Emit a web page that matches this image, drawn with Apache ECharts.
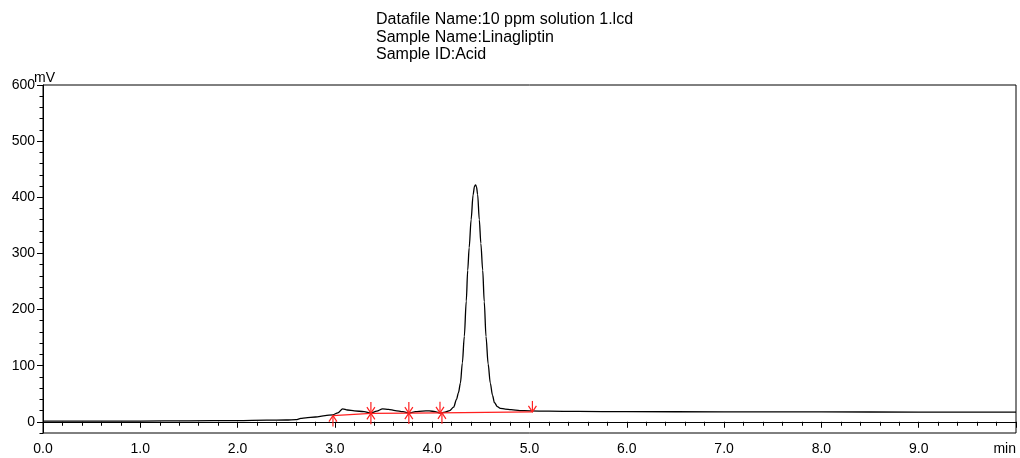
<!DOCTYPE html>
<html>
<head>
<meta charset="utf-8">
<script src="https://cdn.jsdelivr.net/npm/echarts@6/dist/echarts.min.js"></script>
<style>
html,body{margin:0;padding:0;background:#fff;}
#chart{width:1020px;height:458px;}
</style>
</head>
<body>
<div id="chart"></div>
<script>
// ---- data ----
const titleLines = ['Datafile Name:10 ppm solution 1.lcd', 'Sample Name:Linagliptin', 'Sample ID:Acid'];
const xTickLabels = ['0.0','1.0','2.0','3.0','4.0','5.0','6.0','7.0','8.0','9.0','min'];
const yTickValues = [0, 100, 200, 300, 400, 500, 600];
const yUnit = 'mV';

const traceTimes = [0, 0.5, 1.0, 1.5, 2.0, 2.3, 2.5, 2.6, 2.65, 2.7, 2.8, 2.9, 2.98, 3.03, 3.08, 3.13, 3.2, 3.3, 3.37, 3.43, 3.49, 3.55, 3.62, 3.7, 3.76, 3.83, 3.9, 3.97, 4.03, 4.08, 4.13, 4.18, 4.22, 4.25, 4.27, 4.29, 4.31, 4.33, 4.35, 4.365, 4.38, 4.40, 4.42, 4.435, 4.445, 4.455, 4.467, 4.484, 4.50, 4.519, 4.535, 4.553, 4.575, 4.597, 4.62, 4.64, 4.67, 4.70, 4.75, 4.81, 4.9, 5.0, 5.2, 5.5, 6.0, 7.0, 8.0, 9.0, 10.0];
const traceValues = [1, 1, 1.3, 1.6, 2.2, 2.8, 3.2, 3.8, 6, 6.8, 8.5, 11, 12.4, 16, 23, 21, 19.5, 18, 15.5, 19, 23, 22, 20, 18, 15.5, 18, 19, 19.5, 18, 15.5, 17, 20, 26, 40, 52, 69, 105, 152, 215, 270, 310, 360, 404, 420, 422, 419, 405, 360, 318, 270, 214, 152, 103, 69, 47, 34, 27, 24, 22.5, 21.5, 20, 19.5, 18.8, 18.5, 18, 17.8, 17.5, 17.3, 17.2];

const baselineTimes = [2.98, 3.37, 3.76, 4.08, 5.03];
const baselineValues = [11, 15, 15.5, 16, 17.5];

const peakStartTimes = [2.98, 3.37, 3.76, 4.10];
const peakStartValues = [11, 15, 15.5, 16];
const peakEndTimes = [3.37, 3.76, 4.08, 5.03];
const peakEndValues = [15.5, 15.5, 16, 17.5];

// ---- chart ----
const FONT = '"Liberation Sans", Arial, sans-serif';
const zip = (a, b) => a.map((v, i) => [v, b[i]]);

function arrowItem(dir) {
  return function (params, api) {
    const p = api.coord([api.value(0), api.value(1)]);
    const s = dir; // -1 = up arrow (stem below), 1 = down arrow (stem above)
    const stem = 11, hw = 4, hh = 6;
    const style = { stroke: '#ff2020', lineWidth: 1.2, fill: null };
    return {
      type: 'group',
      children: [
        { type: 'line', shape: { x1: p[0], y1: p[1], x2: p[0], y2: p[1] - s * stem }, style: style },
        { type: 'polyline', shape: { points: [[p[0] - hw, p[1] - s * hh], [p[0], p[1]], [p[0] + hw, p[1] - s * hh]] }, style: style }
      ]
    };
  };
}

const chart = echarts.init(document.getElementById('chart'), null, { renderer: 'canvas' });
chart.setOption({
  animation: false,
  backgroundColor: '#fff',
  textStyle: { fontFamily: FONT },
  title: {
    text: titleLines.join('\n'),
    left: 376, top: 11, padding: 0,
    textStyle: { fontFamily: FONT, fontSize: 16, fontWeight: 'normal', color: '#000', lineHeight: 17.5 }
  },
  grid: {
    left: 43, right: 4, top: 85, bottom: 25,
    show: true, borderColor: '#000', borderWidth: 1, backgroundColor: 'transparent'
  },
  xAxis: {
    type: 'value', min: 0, max: 10, interval: 1,
    axisLine: { show: true, lineStyle: { color: '#000', width: 1 } },
    axisTick: { show: true, length: 6, lineStyle: { color: '#000' } },
    minorTick: { show: true, splitNumber: 5, length: 4, lineStyle: { color: '#000' } },
    splitLine: { show: false },
    minorSplitLine: { show: false },
    axisLabel: {
      color: '#000', fontSize: 14, fontFamily: FONT, margin: 9,
      alignMaxLabel: 'right',
      formatter: v => xTickLabels[Math.round(v)]
    }
  },
  yAxis: [{
    type: 'value', min: -20, max: 600, interval: 20,
    name: yUnit, nameLocation: 'end', nameGap: 0, nameMoveOverlap: false,
    nameTextStyle: { color: '#000', fontSize: 14, fontFamily: FONT, align: 'left', padding: [0, 0, 0, -9] },
    axisLine: { show: true, lineStyle: { color: '#000', width: 1 } },
    axisTick: { show: true, length: 3.5, lineStyle: { color: '#000' } },
    splitLine: { show: false },
    axisLabel: {
      color: '#000', fontSize: 14, fontFamily: FONT, margin: 8,
      formatter: v => (yTickValues.indexOf(v) >= 0 ? String(v) : '')
    }
  }, {
    type: 'value', min: -20, max: 600, position: 'left',
    axisLine: { show: false },
    axisTick: { show: true, length: 6, customValues: yTickValues, lineStyle: { color: '#000' } },
    axisLabel: { show: false },
    splitLine: { show: false }
  }],
  series: [{
    type: 'line',
    data: zip(traceTimes, traceValues),
    showSymbol: false,
    smooth: 0.3,
    smoothMonotone: 'x',
    lineStyle: { color: '#000', width: 1.3 },
    z: 2
  }, {
    type: 'line',
    data: zip(baselineTimes, baselineValues),
    showSymbol: false,
    lineStyle: { color: '#ff2020', width: 1.2 },
    z: 3
  }, {
    type: 'custom',
    data: zip(peakStartTimes, peakStartValues),
    renderItem: arrowItem(-1),
    z: 4
  }, {
    type: 'custom',
    data: zip(peakEndTimes, peakEndValues),
    renderItem: arrowItem(1),
    z: 4
  }]
});
</script>
</body>
</html>
